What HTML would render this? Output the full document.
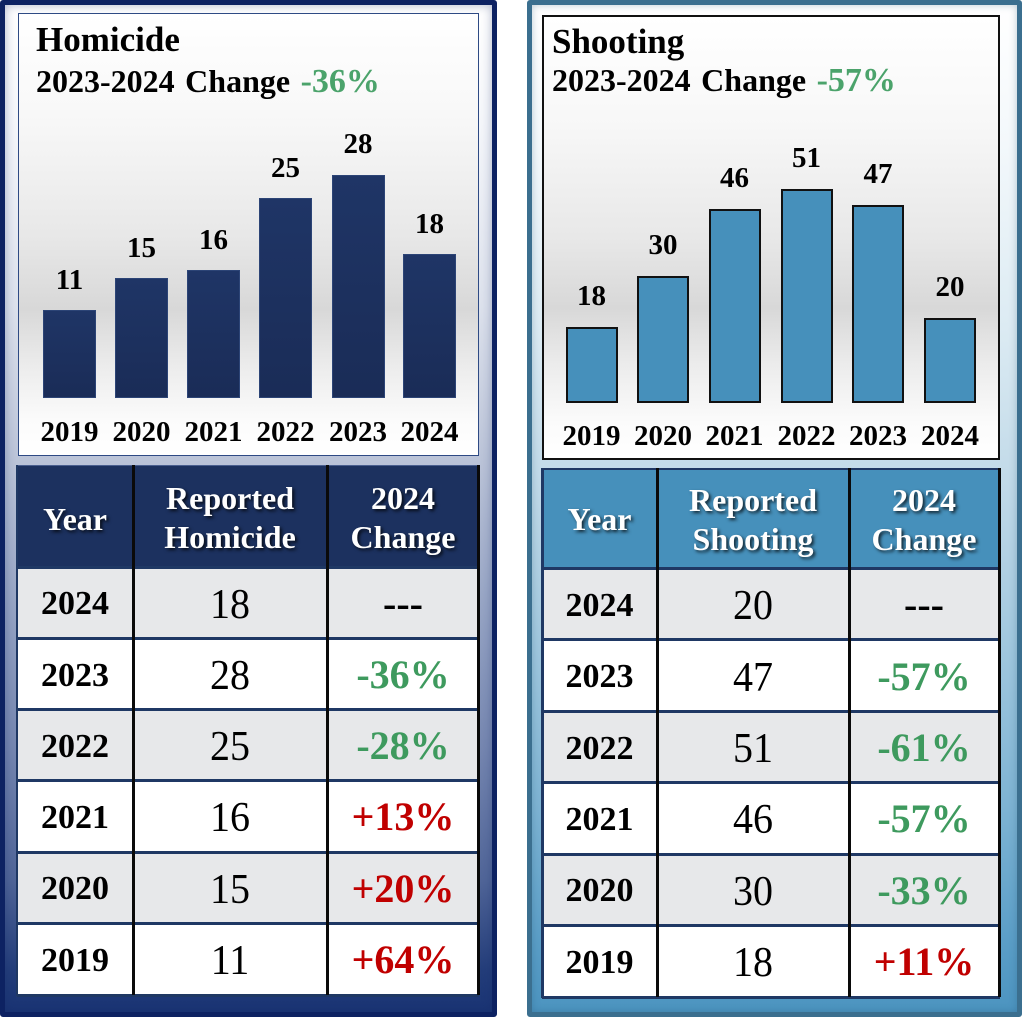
<!DOCTYPE html>
<html><head><meta charset="utf-8">
<style>
html,body{margin:0;padding:0;}
body{width:1024px;height:1018px;position:relative;background:#fff;overflow:hidden;font-family:"Liberation Serif","Times New Roman",serif;}
.a{position:absolute;box-sizing:border-box;}
.t{position:absolute;line-height:1;text-align:center;white-space:nowrap;color:#000;}
.ttl{position:absolute;line-height:1;white-space:nowrap;font-weight:bold;color:#000;}
.sub{word-spacing:2.5px;}
.sub span{color:#4ba36b;font-size:34px;}
.vl{font-size:29px;font-weight:bold;width:100px;}
.yr{font-size:34px;font-weight:bold;width:120px;}
.nm{font-size:40px;font-weight:normal;width:160px;transform:scaleY(1.06);}
.pc{font-size:40px;font-weight:bold;width:160px;}
.hd{position:absolute;line-height:39px;text-align:center;white-space:nowrap;color:#fff;font-size:32px;font-weight:bold;text-shadow:2px 2px 3px rgba(0,0,0,0.75);width:200px;}
.g{color:#3e9a5e;}
.r{color:#c00000;}
.lbar{background:linear-gradient(to bottom,#1f3566,#1a2c57);border:1px solid #2c4476;}
.rbar{background:#4690bb;border:2px solid #111;}
.hl{position:absolute;height:3px;background:#1f3864;}
.vk{position:absolute;width:3px;background:#0a0a0a;}
</style></head>
<body>

<!-- LEFT PANEL -->
<div class="a" style="left:0;top:0;width:497px;height:1017px;border:5px solid #0d2262;border-radius:3px;background:linear-gradient(to bottom,#ffffff 0%,#f4f6fa 12%,#dce1ec 30%,#b9c2d7 46%,#96a4c4 60%,#7586b0 74%,#506598 87%,#233d7a 96%,#1a3474 100%);box-shadow:inset 0 0 10px rgba(20,40,100,0.35);"></div>

<!-- left chart box -->
<div class="a" style="left:18px;top:13px;width:461px;height:443px;border:1.5px solid #2e4a84;background:linear-gradient(to bottom,#ffffff 0%,#f7f7f7 25%,#e8e8e8 50%,#d8d8d8 67%,#ececec 80%,#fbfbfb 92%,#ffffff 100%);"></div>

<div class="ttl" style="left:36px;top:21.7px;font-size:35px;">Homicide</div>
<div class="ttl sub" style="left:36px;top:65.2px;font-size:32px;">2023-2024 Change <span>-36%</span></div>

<div class="a lbar" style="left:43px;top:310px;width:53px;height:88px;"></div>
<div class="a lbar" style="left:115px;top:278px;width:53px;height:120px;"></div>
<div class="a lbar" style="left:187px;top:270px;width:53px;height:128px;"></div>
<div class="a lbar" style="left:259px;top:198px;width:53px;height:200px;"></div>
<div class="a lbar" style="left:332px;top:175px;width:53px;height:223px;"></div>
<div class="a lbar" style="left:403px;top:254px;width:53px;height:144px;"></div>

<div class="t vl" style="left:19.5px;top:265.7px;">11</div>
<div class="t vl" style="left:91.5px;top:233.7px;">15</div>
<div class="t vl" style="left:163.5px;top:225.7px;">16</div>
<div class="t vl" style="left:235.5px;top:153.7px;">25</div>
<div class="t vl" style="left:308px;top:129.7px;">28</div>
<div class="t vl" style="left:379.5px;top:209.7px;">18</div>

<div class="t vl" style="left:19.5px;top:417.7px;">2019</div>
<div class="t vl" style="left:91.5px;top:417.7px;">2020</div>
<div class="t vl" style="left:163.5px;top:417.7px;">2021</div>
<div class="t vl" style="left:235.5px;top:417.7px;">2022</div>
<div class="t vl" style="left:308px;top:417.7px;">2023</div>
<div class="t vl" style="left:379.5px;top:417.7px;">2024</div>

<!-- left table -->
<div class="a" style="left:17px;top:465px;width:462px;height:102px;background:#1c315f;border-top:1px solid #4a5f8f;"></div>
<div class="a" style="left:17px;top:566.7px;width:462px;height:71.3px;background:#e7e8ea;"></div>
<div class="a" style="left:17px;top:638px;width:462px;height:71.3px;background:#ffffff;"></div>
<div class="a" style="left:17px;top:709.3px;width:462px;height:71.3px;background:#e7e8ea;"></div>
<div class="a" style="left:17px;top:780.6px;width:462px;height:71.3px;background:#ffffff;"></div>
<div class="a" style="left:17px;top:851.9px;width:462px;height:71.3px;background:#e7e8ea;"></div>
<div class="a" style="left:17px;top:923.2px;width:462px;height:71.3px;background:#ffffff;"></div>

<div class="hl" style="left:17px;top:565.5px;width:462px;"></div>
<div class="hl" style="left:17px;top:636.8px;width:462px;"></div>
<div class="hl" style="left:17px;top:708.1px;width:462px;"></div>
<div class="hl" style="left:17px;top:779.4px;width:462px;"></div>
<div class="hl" style="left:17px;top:850.7px;width:462px;"></div>
<div class="hl" style="left:17px;top:922px;width:462px;"></div>
<div class="hl" style="left:17px;top:993.5px;width:462px;"></div>
<div class="a" style="left:16px;top:465px;width:2px;height:531px;background:#1f3864;"></div>

<div class="vk" style="left:131.5px;top:465px;height:530px;"></div>
<div class="vk" style="left:325.5px;top:465px;height:530px;"></div>
<div class="vk" style="left:477px;top:465px;height:530px;"></div>

<div class="hd" style="left:-25px;top:503.2px;line-height:1;">Year</div>
<div class="hd" style="left:130px;top:478.7px;">Reported<br>Homicide</div>
<div class="hd" style="left:303px;top:478.7px;">2024<br>Change</div>

<div class="t yr" style="left:15px;top:587.2px;">2024</div>
<div class="t nm" style="left:150px;top:583.5px;">18</div>
<div class="t pc" style="left:323px;top:583.5px;">---</div>

<div class="t yr" style="left:15px;top:658.5px;">2023</div>
<div class="t nm" style="left:150px;top:654.8px;">28</div>
<div class="t pc g" style="left:323px;top:654.8px;">-36%</div>

<div class="t yr" style="left:15px;top:729.8px;">2022</div>
<div class="t nm" style="left:150px;top:726.1px;">25</div>
<div class="t pc g" style="left:323px;top:726.1px;">-28%</div>

<div class="t yr" style="left:15px;top:801.1px;">2021</div>
<div class="t nm" style="left:150px;top:797.4px;">16</div>
<div class="t pc r" style="left:323px;top:797.4px;">+13%</div>

<div class="t yr" style="left:15px;top:872.4px;">2020</div>
<div class="t nm" style="left:150px;top:868.7px;">15</div>
<div class="t pc r" style="left:323px;top:868.7px;">+20%</div>

<div class="t yr" style="left:15px;top:943.7px;">2019</div>
<div class="t nm" style="left:150px;top:940px;">11</div>
<div class="t pc r" style="left:323px;top:940px;">+64%</div>

<!-- RIGHT PANEL -->
<div class="a" style="left:527px;top:0;width:495px;height:1017px;border:5px solid #3b6f8f;border-radius:3px;background:linear-gradient(to bottom,#ffffff 0%,#f3f8fb 14%,#dcebf3 32%,#c0d9e8 48%,#a0c7de 64%,#7db3d3 80%,#5b9ec7 93%,#4c94c0 100%);box-shadow:inset 0 0 8px rgba(30,80,110,0.3);"></div>

<div class="a" style="left:542px;top:15px;width:458px;height:445px;border:2px solid #111;background:linear-gradient(to bottom,#ffffff 0%,#f7f7f7 25%,#e8e8e8 50%,#d8d8d8 66%,#ececec 79%,#fbfbfb 92%,#ffffff 100%);"></div>

<div class="ttl" style="left:552px;top:23.7px;font-size:35px;">Shooting</div>
<div class="ttl sub" style="left:552px;top:64.2px;font-size:32px;">2023-2024 Change <span>-57%</span></div>

<div class="a rbar" style="left:566px;top:327px;width:52px;height:76px;"></div>
<div class="a rbar" style="left:637px;top:276px;width:52px;height:127px;"></div>
<div class="a rbar" style="left:709px;top:209px;width:52px;height:194px;"></div>
<div class="a rbar" style="left:781px;top:189px;width:52px;height:214px;"></div>
<div class="a rbar" style="left:852px;top:205px;width:52px;height:198px;"></div>
<div class="a rbar" style="left:924px;top:318px;width:52px;height:85px;"></div>

<div class="t vl" style="left:541.5px;top:281.7px;">18</div>
<div class="t vl" style="left:613px;top:230.7px;">30</div>
<div class="t vl" style="left:684.5px;top:163.7px;">46</div>
<div class="t vl" style="left:756.5px;top:143.7px;">51</div>
<div class="t vl" style="left:828px;top:159.7px;">47</div>
<div class="t vl" style="left:900px;top:272.7px;">20</div>

<div class="t vl" style="left:541.5px;top:421.7px;">2019</div>
<div class="t vl" style="left:613px;top:421.7px;">2020</div>
<div class="t vl" style="left:684.5px;top:421.7px;">2021</div>
<div class="t vl" style="left:756.5px;top:421.7px;">2022</div>
<div class="t vl" style="left:828px;top:421.7px;">2023</div>
<div class="t vl" style="left:900px;top:421.7px;">2024</div>

<!-- right table -->
<div class="a" style="left:542px;top:468px;width:458px;height:101px;background:#4690bb;border-top:2px solid #1f3864;"></div>
<div class="a" style="left:542px;top:568.3px;width:458px;height:71.4px;background:#e7e8ea;"></div>
<div class="a" style="left:542px;top:639.7px;width:458px;height:71.4px;background:#ffffff;"></div>
<div class="a" style="left:542px;top:711.1px;width:458px;height:71.4px;background:#e7e8ea;"></div>
<div class="a" style="left:542px;top:782.5px;width:458px;height:71.4px;background:#ffffff;"></div>
<div class="a" style="left:542px;top:853.9px;width:458px;height:71.4px;background:#e7e8ea;"></div>
<div class="a" style="left:542px;top:925.3px;width:458px;height:71.4px;background:#ffffff;"></div>

<div class="hl" style="left:542px;top:567px;width:458px;"></div>
<div class="hl" style="left:542px;top:638.4px;width:458px;"></div>
<div class="hl" style="left:542px;top:709.8px;width:458px;"></div>
<div class="hl" style="left:542px;top:781.2px;width:458px;"></div>
<div class="hl" style="left:542px;top:852.6px;width:458px;"></div>
<div class="hl" style="left:542px;top:924px;width:458px;"></div>
<div class="hl" style="left:542px;top:995.5px;width:458px;"></div>
<div class="a" style="left:541px;top:468px;width:3px;height:530px;background:#1f3864;"></div>

<div class="vk" style="left:656px;top:468px;height:529px;"></div>
<div class="vk" style="left:847.5px;top:468px;height:529px;"></div>
<div class="vk" style="left:997.5px;top:468px;height:529px;"></div>

<div class="hd" style="left:499.5px;top:503.2px;line-height:1;">Year</div>
<div class="hd" style="left:653px;top:480.7px;">Reported<br>Shooting</div>
<div class="hd" style="left:824px;top:480.7px;">2024<br>Change</div>

<div class="t yr" style="left:539.5px;top:588.7px;">2024</div>
<div class="t nm" style="left:673px;top:585.2px;">20</div>
<div class="t pc" style="left:844px;top:585.2px;">---</div>

<div class="t yr" style="left:539.5px;top:660.1px;">2023</div>
<div class="t nm" style="left:673px;top:656.6px;">47</div>
<div class="t pc g" style="left:844px;top:656.6px;">-57%</div>

<div class="t yr" style="left:539.5px;top:731.5px;">2022</div>
<div class="t nm" style="left:673px;top:728px;">51</div>
<div class="t pc g" style="left:844px;top:728px;">-61%</div>

<div class="t yr" style="left:539.5px;top:802.9px;">2021</div>
<div class="t nm" style="left:673px;top:799.4px;">46</div>
<div class="t pc g" style="left:844px;top:799.4px;">-57%</div>

<div class="t yr" style="left:539.5px;top:874.3px;">2020</div>
<div class="t nm" style="left:673px;top:870.8px;">30</div>
<div class="t pc g" style="left:844px;top:870.8px;">-33%</div>

<div class="t yr" style="left:539.5px;top:945.7px;">2019</div>
<div class="t nm" style="left:673px;top:942.2px;">18</div>
<div class="t pc r" style="left:844px;top:942.2px;">+11%</div>

</body></html>
